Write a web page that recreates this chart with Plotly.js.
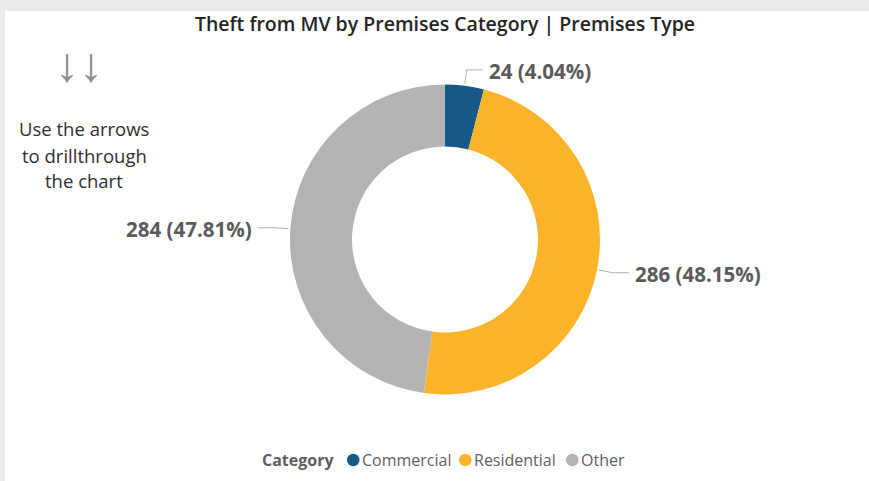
<!DOCTYPE html>
<html>
<head>
<meta charset="utf-8">
<script src="https://cdn.plot.ly/plotly-3.0.1.min.js"></script>
<style>
  html, body { margin: 0; padding: 0; background: #ebebeb; }
  #chart { width: 869px; height: 481px; }
</style>
</head>
<body>
<div id="chart"></div>
<script>
// данные диаграммы
const categories = ['Commercial', 'Residential', 'Other'];
const counts = [24, 286, 284];
const sliceColors = ['#175a88', '#fbb42a', '#b3b3b3'];
const titleText = 'Theft from MV by Premises Category | Premises Type';
const hintLines = ['Use the arrows', 'to drillthrough', 'the chart'];
const legendTitle = 'Category';

const W = 869, H = 481;
const px = x => x / W;            // пиксели -> paper
const py = y => 1 - y / H;

// геометрия кольца
const cx = 445, cy = 239.5, R = 155;
// левые края элементов легенды (кружок + подпись), пиксели
const legendX = [347, 459, 566];
const legendY = 460;

const total = counts.reduce((a, b) => a + b, 0);

const annotations = [];
const shapes = [{
    type: 'rect', xref: 'paper', yref: 'paper', layer: 'below',
    x0: px(5), x1: 1, y0: 0, y1: py(11),
    fillcolor: '#ffffff', line: { width: 0 }
}];

// подписи с выносными линиями, считаем от середины сектора
let acc = 0;
counts.forEach((v, i) => {
    const mid = (acc + v / 2) / total * 2 * Math.PI;   // по часовой от 12 часов
    acc += v;
    const dx = Math.sin(mid), dy = -Math.cos(mid);
    const side = dx >= 0 ? 1 : -1;
    const p0 = [cx + (R + 2) * dx, cy + (R + 2) * dy];
    const p1 = [cx + (R + 16) * dx, cy + (R + 16) * dy];
    const p2 = [p1[0] + 16 * side, p1[1]];
    shapes.push({
        type: 'path', xref: 'paper', yref: 'paper',
        path: `M ${px(p0[0])} ${py(p0[1])} L ${px(p1[0])} ${py(p1[1])} L ${px(p2[0])} ${py(p2[1])}`,
        line: { color: '#b0b0b0', width: 1 }
    });
    const pct = (v / total * 100).toFixed(2);
    annotations.push({
        xref: 'paper', yref: 'paper',
        x: px(p2[0] + 4 * side), y: py(p2[1] + 1),
        xanchor: side > 0 ? 'left' : 'right', yanchor: 'middle',
        text: `${v} (${pct}%)`, showarrow: false,
        font: { family: 'Open Sans', size: 20.5, weight: 700, color: '#5a5a5a' }
    });
});

// стрелки и подсказка слева
annotations.push({
    xref: 'paper', yref: 'paper', x: px(79), y: py(64),
    xanchor: 'center', yanchor: 'middle', showarrow: false,
    text: '↓↓', font: { family: 'Liberation Sans', size: 48, color: '#8c8c8c' }
});
hintLines.forEach((line, i) => {
    annotations.push({
        xref: 'paper', yref: 'paper', x: px(84), y: py(129 + i * 26),
        xanchor: 'center', yanchor: 'middle', showarrow: false,
        text: line, font: { family: 'Open Sans', size: 18.5, color: '#2f2e2d' }
    });
});

// легенда
annotations.push({
    xref: 'paper', yref: 'paper', x: px(336), y: py(legendY),
    xanchor: 'right', yanchor: 'middle', showarrow: false,
    text: `<b>${legendTitle}</b>`, font: { family: 'Open Sans', size: 16, color: '#605e5c' }
});
categories.forEach((c, i) => {
    const x = legendX[i];
    shapes.push({
        type: 'circle', xref: 'paper', yref: 'paper',
        x0: px(x), x1: px(x + 12.5), y0: py(legendY + 6.25), y1: py(legendY - 6.25),
        fillcolor: sliceColors[i], line: { width: 0 }
    });
    annotations.push({
        xref: 'paper', yref: 'paper', x: px(x + 13), y: py(legendY),
        xanchor: 'left', yanchor: 'middle', showarrow: false,
        text: c, font: { family: 'Open Sans', size: 16, color: '#605e5c' }
    });
});

const data = [{
    type: 'pie',
    labels: categories,
    values: counts,
    marker: { colors: sliceColors, line: { width: 0 } },
    hole: 0.6,
    sort: false,
    direction: 'clockwise',
    rotation: 0,
    textinfo: 'none',
    hoverinfo: 'label+value+percent',
    showlegend: false,
    domain: { x: [px(cx - R), px(cx + R)], y: [py(cy + R), py(cy - R)] }
}];

const layout = {
    width: W, height: H,
    margin: { l: 0, r: 0, t: 0, b: 0 },
    paper_bgcolor: '#ebebeb',
    title: {
        text: titleText,
        x: px(445), xanchor: 'center',
        y: py(24), yanchor: 'middle',
        font: { family: 'Open Sans', size: 19.5, weight: 600, color: '#252423' }
    },
    showlegend: false,
    annotations: annotations,
    shapes: shapes
};

Plotly.newPlot('chart', data, layout, { displayModeBar: false, staticPlot: true });
</script>
</body>
</html>
